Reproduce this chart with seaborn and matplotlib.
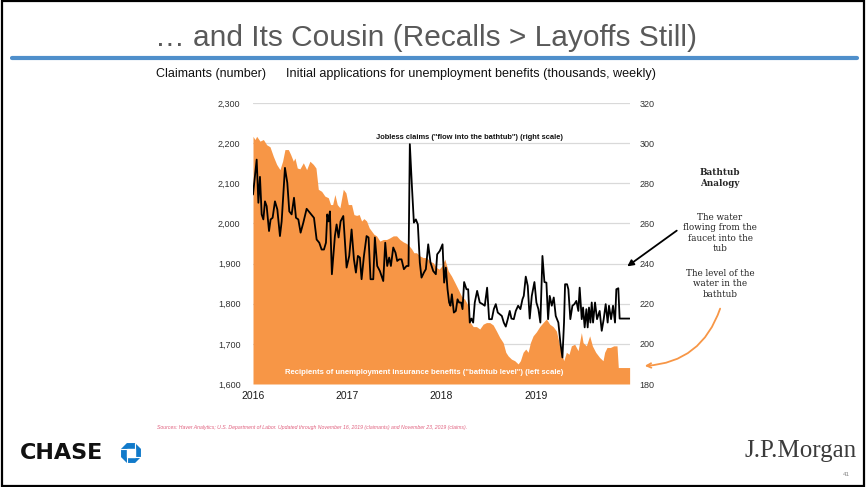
import matplotlib
matplotlib.use("Agg")
import matplotlib.pyplot as plt
import matplotlib.patches as mpatches
import seaborn as sns
import pandas as pd

# Jobless claims, thousands (right scale) - vertices, x in decimal years
claims_t = [2016.000, 2016.039, 2016.057, 2016.074, 2016.092, 2016.110, 2016.127, 2016.145,
            2016.170, 2016.187, 2016.208, 2016.233, 2016.258, 2016.286, 2016.304, 2016.339,
            2016.364, 2016.385, 2016.410, 2016.435, 2016.456, 2016.481, 2016.505, 2016.534,
            2016.569, 2016.604, 2016.647, 2016.675, 2016.703, 2016.728, 2016.753, 2016.774,
            2016.788, 2016.802, 2016.816, 2016.837, 2016.869, 2016.887, 2016.908, 2016.929,
            2016.958, 2016.993, 2017.021, 2017.046, 2017.071, 2017.092, 2017.113, 2017.134,
            2017.152, 2017.177, 2017.205, 2017.226, 2017.247, 2017.276, 2017.293, 2017.318,
            2017.346, 2017.382, 2017.403, 2017.424, 2017.445, 2017.463, 2017.488, 2017.512,
            2017.530, 2017.551, 2017.576, 2017.601, 2017.629, 2017.650, 2017.664, 2017.686,
            2017.707, 2017.728, 2017.749, 2017.770, 2017.788, 2017.813, 2017.834, 2017.859,
            2017.883, 2017.912, 2017.940, 2017.954, 2017.982, 2018.011, 2018.028, 2018.046,
            2018.064, 2018.081, 2018.095, 2018.110, 2018.131, 2018.152, 2018.170, 2018.187,
            2018.208, 2018.223, 2018.240, 2018.265, 2018.283, 2018.300, 2018.318, 2018.336,
            2018.353, 2018.378, 2018.406, 2018.435, 2018.459, 2018.484, 2018.505, 2018.534,
            2018.555, 2018.576, 2018.597, 2018.618, 2018.640, 2018.661, 2018.682, 2018.703,
            2018.724, 2018.742, 2018.767, 2018.788, 2018.813, 2018.837, 2018.859, 2018.873,
            2018.894, 2018.915, 2018.936, 2018.958, 2018.986, 2019.007, 2019.028, 2019.049,
            2019.071, 2019.092, 2019.113, 2019.131, 2019.148, 2019.170, 2019.191, 2019.212,
            2019.240, 2019.261, 2019.283, 2019.300, 2019.311, 2019.332, 2019.346, 2019.367,
            2019.389, 2019.410, 2019.431, 2019.452, 2019.466, 2019.488, 2019.502, 2019.519,
            2019.537, 2019.551, 2019.565, 2019.580, 2019.594, 2019.608, 2019.629, 2019.650,
            2019.678, 2019.700, 2019.721, 2019.742, 2019.763, 2019.777, 2019.799, 2019.820,
            2019.841, 2019.855, 2019.876, 2019.890, 2019.996]
claims = [274.4, 291.8, 270.3, 283.2, 264.5, 262.0, 271.0, 268.6,
          256.2, 262.0, 262.8, 271.0, 267.0, 253.7, 261.0, 287.7,
          280.2, 266.0, 264.5, 272.8, 262.8, 262.0, 255.4, 260.4,
          267.3, 265.3, 262.8, 252.0, 250.4, 247.0, 247.0, 250.4,
          264.5, 261.0, 266.0, 234.7, 253.7, 259.5, 253.0, 261.0,
          263.7, 238.0, 243.8, 257.0, 242.1, 235.5, 243.8, 243.0,
          232.2, 243.8, 253.7, 253.0, 232.2, 232.2, 253.0, 238.8,
          236.3, 231.3, 250.4, 238.8, 243.0, 238.8, 248.0, 245.4,
          241.3, 242.1, 242.1, 237.2, 238.8, 238.8, 299.5, 278.6,
          260.4, 262.0, 259.5, 240.5, 233.0, 235.5, 237.2, 249.6,
          240.5, 236.3, 234.7, 244.6, 246.3, 249.6, 230.5, 238.0,
          227.2, 220.6, 219.0, 224.7, 215.6, 216.4, 222.2, 220.6,
          220.6, 217.3, 230.8, 227.2, 227.2, 210.6, 212.6, 210.6,
          220.6, 226.4, 220.6, 219.8, 219.0, 228.0, 212.3, 212.3,
          217.3, 219.8, 215.6, 214.8, 213.9, 210.6, 208.6, 212.3,
          216.4, 212.6, 212.3, 216.4, 219.0, 217.3, 222.2, 223.9,
          233.5, 228.9, 212.6, 223.9, 230.8, 220.6, 217.3, 210.6,
          243.8, 230.8, 230.5, 212.3, 223.9, 219.0, 223.1, 213.9,
          210.6, 200.7, 193.2, 210.6, 229.7, 229.7, 227.2, 212.3,
          219.0, 219.8, 221.4, 216.4, 228.0, 212.3, 218.1, 208.2,
          217.3, 208.2, 218.1, 210.6, 220.6, 210.6, 220.6, 212.3,
          216.4, 206.5, 212.3, 219.8, 210.6, 219.0, 212.3, 219.0,
          210.6, 227.2, 227.7, 212.6, 212.6]

# Continuing claimants, thousands (left scale)
recip_t = [2016.000, 2016.021, 2016.039, 2016.074, 2016.110, 2016.145, 2016.180, 2016.216,
           2016.251, 2016.286, 2016.314, 2016.339, 2016.375, 2016.399, 2016.428, 2016.445,
           2016.470, 2016.498, 2016.534, 2016.569, 2016.604, 2016.640, 2016.668, 2016.693,
           2016.728, 2016.763, 2016.799, 2016.823, 2016.845, 2016.869, 2016.894, 2016.922,
           2016.958, 2016.986, 2017.011, 2017.046, 2017.071, 2017.099, 2017.127, 2017.152,
           2017.177, 2017.205, 2017.233, 2017.258, 2017.283, 2017.311, 2017.346, 2017.382,
           2017.417, 2017.452, 2017.488, 2017.523, 2017.558, 2017.594, 2017.629, 2017.657,
           2017.682, 2017.707, 2017.735, 2017.770, 2017.806, 2017.841, 2017.876, 2017.912,
           2017.947, 2017.975, 2018.004, 2018.035, 2018.071, 2018.106, 2018.141, 2018.177,
           2018.212, 2018.247, 2018.283, 2018.307, 2018.336, 2018.371, 2018.406, 2018.442,
           2018.477, 2018.512, 2018.548, 2018.583, 2018.618, 2018.654, 2018.682, 2018.707,
           2018.742, 2018.777, 2018.813, 2018.837, 2018.866, 2018.894, 2018.919, 2018.943,
           2018.972, 2019.007, 2019.042, 2019.078, 2019.113, 2019.148, 2019.184, 2019.219,
           2019.247, 2019.272, 2019.297, 2019.325, 2019.353, 2019.378, 2019.413, 2019.449,
           2019.484, 2019.502, 2019.537, 2019.572, 2019.601, 2019.636, 2019.678, 2019.714,
           2019.731, 2019.756, 2019.792, 2019.827, 2019.862, 2019.876, 2019.996]
recipients = [2217, 2209, 2217, 2205, 2209, 2196, 2191, 2167,
              2147, 2134, 2155, 2184, 2184, 2172, 2155, 2163,
              2138, 2136, 2151, 2134, 2155, 2147, 2138, 2085,
              2080, 2068, 2064, 2047, 2047, 2072, 2047, 2039,
              2085, 2076, 2047, 2047, 2022, 2020, 2022, 2006,
              2012, 2006, 1989, 1981, 1973, 1969, 1956, 1960,
              1960, 1964, 1969, 1969, 1960, 1954, 1950, 1944,
              1937, 1927, 1927, 1919, 1915, 1915, 1906, 1902,
              1890, 1886, 1894, 1911, 1882, 1869, 1853, 1836,
              1819, 1811, 1795, 1753, 1743, 1743, 1737, 1749,
              1753, 1753, 1747, 1732, 1716, 1703, 1679, 1670,
              1662, 1658, 1650, 1658, 1679, 1687, 1679, 1703,
              1720, 1730, 1743, 1753, 1762, 1749, 1743, 1732,
              1703, 1679, 1658, 1679, 1674, 1695, 1699, 1683,
              1728, 1703, 1695, 1720, 1695, 1679, 1666, 1658,
              1679, 1691, 1691, 1695, 1695, 1641, 1641]

left_ticks = [1600, 1700, 1800, 1900, 2000, 2100, 2200, 2300]
right_ticks = [180, 200, 220, 240, 260, 280, 300, 320]
years = [2016, 2017, 2018, 2019]

ORANGE = "#F79646"
GRID = "#D9D9D9"
W, H = 867, 487

sns.set_style("white")
plt.rcParams["font.family"] = ["Liberation Sans", "DejaVu Sans"]

recip_df = pd.DataFrame({"t": recip_t, "v": recipients})
claims_df = pd.DataFrame({"t": claims_t, "v": claims})

fig = plt.figure(figsize=(W / 100, H / 100), dpi=100)
fig.patch.set_facecolor("white")


def fx(px):
    return px / W


def fy(py):
    return 1 - py / H


ax = fig.add_axes([fx(253), fy(384), fx(630) - fx(253), fy(103) - fy(384)])

# bathtub level: orange area on the left scale
ax.fill_between(recip_df["t"], 1600, recip_df["v"], color=ORANGE, lw=0, zorder=2)
ax.set_ylim(1600, 2300)
ax.set_xlim(2016, 2020)
ax.set_yticks(left_ticks)
ax.set_yticklabels([f"{v:,}" for v in left_ticks])
ax.set_xticks(years)
ax.set_xticklabels([str(y) for y in years])
ax.grid(axis="y", color=GRID, lw=0.9, zorder=0)
ax.grid(axis="x", visible=False)
ax.set_axisbelow(True)
for s in ax.spines.values():
    s.set_visible(False)
ax.tick_params(axis="y", length=0, pad=9, labelsize=6.5, labelcolor="#333333")
ax.tick_params(axis="x", length=0, pad=5, labelsize=7.5, labelcolor="#1a1a1a")
ax.set_xlabel("")
ax.set_ylabel("")

# flow into the bathtub: black line on the right scale
ax2 = ax.twinx()
sns.lineplot(data=claims_df, x="t", y="v", ax=ax2, color="black", lw=1.3, zorder=3)
ax2.set_ylim(180, 320)
ax2.set_xlim(2016, 2020)
ax2.set_yticks(right_ticks)
ax2.set_yticklabels([str(v) for v in right_ticks])
for s in ax2.spines.values():
    s.set_visible(False)
ax2.tick_params(axis="y", length=0, pad=7, labelsize=6.5, labelcolor="#333333")
ax2.set_xlabel("")
ax2.set_ylabel("")

ax2.text(2017.31, 301.2, 'Jobless claims ("flow into the bathtub") (right scale)',
         fontsize=5.4, fontweight="bold", ha="left", va="bottom", color="#111111")
ax.text(2016.34, 1628, 'Recipients of unemployment insurance benefits ("bathtub level") (left scale)',
        fontsize=5.6, fontweight="bold", ha="left", va="center", color="white", zorder=4)

# title and rule
fig.text(fx(426), fy(38), "\u2026 and Its Cousin (Recalls > Layoffs Still)", fontsize=21.5,
         color="#595959", ha="center", va="center")
fig.add_artist(plt.Line2D([fx(12), fx(857)], [fy(57.5), fy(57.5)], color="#4F8FCB", lw=3))
fig.text(fx(156), fy(74), "Claimants (number)", fontsize=9, ha="left", va="center", color="#111111")
fig.text(fx(286), fy(74), "Initial applications for unemployment benefits (thousands, weekly)",
         fontsize=9.1, ha="left", va="center", color="#111111")

# bathtub analogy notes
serif = ["DejaVu Serif"]
fig.text(fx(720), fy(178), "Bathtub\nAnalogy", family=serif, fontsize=6.3, fontweight="bold",
         ha="center", va="center", linespacing=1.25)
fig.text(fx(720), fy(233), "The water\nflowing from the\nfaucet into the\ntub", family=serif,
         fontsize=6.3, ha="center", va="center", linespacing=1.2, color="#222222")
fig.text(fx(720), fy(284), "The level of the\nwater in the\nbathtub", family=serif,
         fontsize=6.3, ha="center", va="center", linespacing=1.2, color="#222222")
fig.add_artist(mpatches.FancyArrowPatch((fx(679), fy(229)), (fx(625), fy(268)),
                                        transform=fig.transFigure, arrowstyle="-|>",
                                        mutation_scale=9, color="black", lw=1.3))
fig.add_artist(mpatches.FancyArrowPatch((fx(721), fy(306)), (fx(642), fy(366)),
                                        transform=fig.transFigure, arrowstyle="->",
                                        connectionstyle="arc3,rad=-0.35",
                                        mutation_scale=8, color=ORANGE, lw=1.3))

fig.text(fx(157), fy(427), "Sources: Haver Analytics; U.S. Department of Labor. Updated through "
         "November 16, 2019 (claimants) and November 23, 2019 (claims).",
         fontsize=3.7, style="italic", color="#E0607E", ha="left", va="center")

# footer
fig.text(fx(20), fy(453), "CHASE", fontsize=16, fontweight="bold", family=["DejaVu Sans"],
         ha="left", va="center", color="#111111")
logo = fig.add_axes([fx(121), fy(463), fx(20), fy(443) - fy(463)])
logo.set_xlim(-1, 1)
logo.set_ylim(-1, 1)
logo.axis("off")
logo.add_patch(mpatches.RegularPolygon((0, 0), 8, radius=1.0, orientation=0.3927,
                                       color="#117ACA"))
logo.add_patch(mpatches.Rectangle((-0.38, -0.38), 0.76, 0.76, color="white"))
logo.plot([-1, -0.38], [0.38, 0.38], color="white", lw=0.8)
logo.plot([0.38, 1], [-0.38, -0.38], color="white", lw=0.8)
logo.plot([0.38, 0.38], [0.38, 1], color="white", lw=0.8)
logo.plot([-0.38, -0.38], [-1, -0.38], color="white", lw=0.8)

fig.text(fx(857), fy(451), "J.P.Morgan", family=["Liberation Serif"], fontsize=18, ha="right",
         va="center", color="#3B3B3B")
fig.text(fx(850), fy(475), "41", fontsize=4.5, ha="right", va="center", color="#888888")

fig.add_artist(mpatches.Rectangle((0.002, 0.003), 0.994, 0.994, fill=False, edgecolor="black",
                                  lw=1.6, transform=fig.transFigure))

fig.savefig("out.png", dpi=100, facecolor="white")
